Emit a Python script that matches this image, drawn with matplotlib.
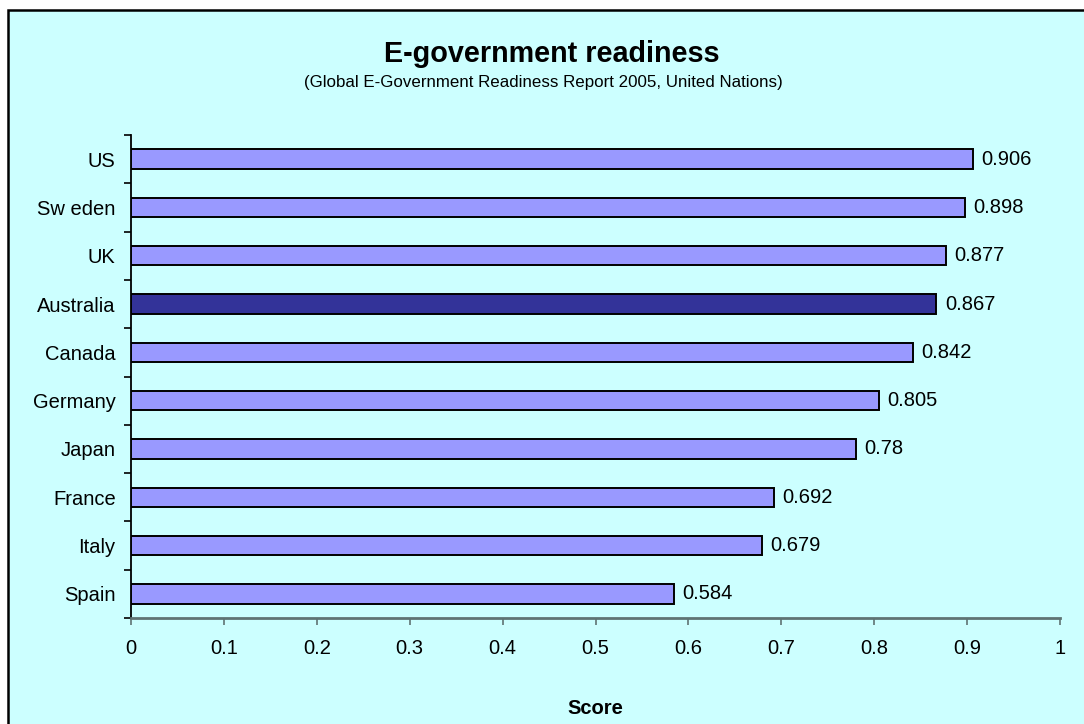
import matplotlib
matplotlib.use('Agg')
import matplotlib.pyplot as plt
from matplotlib.patches import Rectangle
import numpy as np

countries = ['Spain', 'Italy', 'France', 'Japan', 'Germany',
             'Canada', 'Australia', 'UK', 'Sw eden', 'US']
scores = [0.584, 0.679, 0.692, 0.78, 0.805, 0.842, 0.867, 0.877, 0.898, 0.906]
highlight = 'Australia'
xticks = [0, 0.1, 0.2, 0.3, 0.4, 0.5, 0.6, 0.7, 0.8, 0.9, 1]
xtick_labels = ['0', '0.1', '0.2', '0.3', '0.4', '0.5', '0.6', '0.7', '0.8', '0.9', '1']

plt.rcParams['font.family'] = ['Liberation Sans', 'DejaVu Sans']

W, H = 1084, 724
fig = plt.figure(figsize=(W / 100, H / 100), dpi=100, facecolor='white')

# chart area box (runs off the right/bottom edge like the source)
fig.patches.append(Rectangle((8 / W, -0.05), 1.1, 1 - 9.5 / H + 0.05,
                             transform=fig.transFigure, facecolor='#CCFFFF',
                             edgecolor='black', linewidth=1.8, zorder=-10))

ax = fig.add_axes([131 / W, 1 - 618 / H, (1060 - 131) / W, (618 - 135) / H])
ax.set_facecolor('none')

y = np.arange(len(countries))
colors = ['#333399' if c == highlight else '#9999FF' for c in countries]
ax.barh(y, scores, height=0.4, color=colors, edgecolor='black', linewidth=1.4, zorder=3)

for yi, v in zip(y, scores):
    ax.annotate(f'{v:g}', (v, yi), xytext=(6, 0), textcoords='offset points',
                va='center', ha='left', fontsize=14.5)

ax.set_xlim(0, 1)
ax.set_ylim(-0.5, len(countries) - 0.5)
ax.set_xticks(xticks)
ax.set_xticklabels(xtick_labels, fontsize=14.5)
ax.set_yticks(y)
ax.set_yticklabels(countries, fontsize=14.5)
ax.set_yticks(np.arange(-0.5, len(countries)), minor=True)
ax.tick_params(axis='y', which='major', length=0, pad=11)
ax.tick_params(axis='y', which='minor', length=5, width=1.2, color='black')
ax.tick_params(axis='x', length=5, width=1.2, color='#5F7373', pad=10)

for s in ['top', 'right']:
    ax.spines[s].set_visible(False)
ax.spines['left'].set_color('black')
ax.spines['left'].set_linewidth(1.3)
ax.spines['bottom'].set_color('#5F7373')
ax.spines['bottom'].set_linewidth(2)

fig.text(552 / W, 1 - 54 / H, 'E-government readiness', ha='center', va='center',
         fontsize=20.7, fontweight='bold')
fig.text(543 / W, 1 - 83 / H,
         '(Global E-Government Readiness Report 2005, United Nations)',
         ha='center', va='center', fontsize=12.2)
fig.text(595 / W, 1 - 709 / H, 'Score', ha='center', va='center',
         fontsize=14.5, fontweight='bold')

plt.savefig('out.png', dpi=100, facecolor='white')
